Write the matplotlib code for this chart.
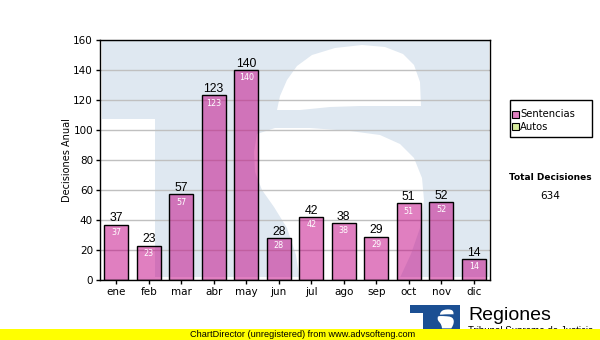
import matplotlib
matplotlib.use("Agg")
import matplotlib.pyplot as plt
from matplotlib.patches import Rectangle, Polygon
from matplotlib.transforms import Affine2D

# ---- data ----
months = ["ene", "feb", "mar", "abr", "may", "jun", "jul", "ago", "sep", "oct", "nov", "dic"]
sentencias = [37, 23, 57, 123, 140, 28, 42, 38, 29, 51, 52, 14]
series_names = ["Sentencias", "Autos"]
y_ticks = [0, 20, 40, 60, 80, 100, 120, 140, 160]
total = sum(sentencias)

# ---- colours ----
bar_rgba = (0.76, 0.0, 0.51, 0.5)
legend_colors = ["#e080c0", "#d8ec9c"]
mark_blue = "#dfe8f1"
logo_blue = "#1b4f93"

W, H = 600, 340
fig = plt.figure(figsize=(W / 100, H / 100), dpi=100)
fig.patch.set_facecolor("white")

# pixel coordinates (origin top-left) -> figure
pix = Affine2D().scale(1 / W, -1 / H).translate(0, 1) + fig.transFigure

ax = fig.add_axes([100 / W, 1 - 280 / H, 390 / W, 240 / H])
ax.set_facecolor("white")

# emblem outline in its own pixel frame: a solid block with the
# lower-left notch of the "T" and the two counters of the "S" left open
UPPER_COUNTER = [(277, 110), (280, 96), (287, 80), (297, 66), (312, 55), (335, 48),
                 (362, 45), (385, 47), (403, 54), (414, 65), (420, 82), (421, 106),
                 (390, 106), (360, 106), (330, 107), (300, 110)]
LOWER_COUNTER = [(254, 152), (257, 134), (275, 128), (310, 128), (350, 131),
                 (380, 135), (400, 144), (414, 158), (422, 178), (424, 200),
                 (420, 228), (411, 254), (398, 282), (300, 282), (296, 255),
                 (287, 228), (274, 207), (262, 190), (255, 172)]


def emblem(container, block, notch, counters, fg, bg, z, clip=None):
    arts = [Rectangle((block[0], block[1]), block[2] - block[0],
                      block[3] - block[1], facecolor=fg),
            Rectangle((notch[0], notch[1]), notch[2] - notch[0],
                      notch[3] - notch[1], facecolor=bg)]
    arts += [Polygon(c, closed=True, facecolor=bg) for c in counters]
    for a in arts:
        a.set_transform(pix)
        a.set_edgecolor("none")
        a.set_zorder(z)
        if clip is not None:
            a.set_clip_path(clip)
        container.add_artist(a)


# faint emblem behind the plot
emblem(ax, (102, 30, 489, 277), (102, 119, 155, 290),
       [UPPER_COUNTER, LOWER_COUNTER], mark_blue, "white", 0.1)

ax.set_axisbelow(True)
ax.yaxis.grid(True, color="#c0c0c0", linewidth=1)

x = list(range(len(months)))
ax.bar(x, sentencias, width=0.74, color=bar_rgba, edgecolor="black",
       linewidth=1, zorder=2)
for xi, v in zip(x, sentencias):
    ax.annotate(str(v), (xi, v), xytext=(0, 0.3), textcoords="offset points",
                ha="center", va="bottom", fontsize=8.8, color="black",
                family="Liberation Sans", zorder=3)
    ax.annotate(str(v), (xi, v), xytext=(0, -2.5), textcoords="offset points",
                ha="center", va="top", fontsize=5.8, color="white",
                family="DejaVu Sans", zorder=3)

ax.set_xlim(-0.5, len(months) - 0.5)
ax.set_ylim(0, 160)
ax.set_yticks(y_ticks)
ax.set_xticks(x)
ax.set_xticklabels(months)
ax.tick_params(axis="both", labelsize=7.5, length=3, width=1, color="black",
               pad=2)
for s in ax.spines.values():
    s.set_color("black")
    s.set_linewidth(1)
ax.set_ylabel("Decisiones Anual", fontsize=7, labelpad=1)

# ---- legend box ----
fig.add_artist(Rectangle((510, 100), 82, 37, transform=pix, facecolor="white",
                         edgecolor="black", linewidth=1))
for i, (name, c) in enumerate(zip(series_names, legend_colors)):
    yc = 114 + i * 12.5
    fig.add_artist(Rectangle((512, yc - 3.5), 7, 7, transform=pix, facecolor=c,
                             edgecolor="black", linewidth=0.8))
    fig.text(520 / W, 1 - yc / H, name, fontsize=7.2, va="center", ha="left")

fig.text(550 / W, 1 - 177 / H, "Total Decisiones", fontsize=6.5, weight="bold",
         ha="center", va="center")
fig.text(550 / W, 1 - 196 / H, str(total), fontsize=7.5, ha="center",
         va="center")

# ---- footer logo and banner ----
def to_logo(pts):
    return [(433 + (px - 205) * 0.095, 309 + (py - 40) * 0.08) for px, py in pts]


emblem(fig, (410, 305, 460, 330), (410, 313, 423, 331),
       [to_logo(UPPER_COUNTER), to_logo(LOWER_COUNTER)], logo_blue, "white", 1)
fig.text(468 / W, 1 - 316 / H, "Regiones", fontsize=14, ha="left",
         va="center", family="Liberation Sans")
fig.text(468 / W, 1 - 325.5 / H, "Tribunal Supremo de Justicia", fontsize=7,
         ha="left", va="top", family="Liberation Sans")
fig.add_artist(Rectangle((0, 329), W, 11, transform=pix, facecolor="#ffff00",
                         edgecolor="none", zorder=5))
fig.text(190 / W, 1 - 334.5 / H,
         "ChartDirector (unregistered) from www.advsofteng.com",
         fontsize=6.6, ha="left", va="center", zorder=6,
         family="Liberation Sans")

fig.savefig("out.png", dpi=100)
